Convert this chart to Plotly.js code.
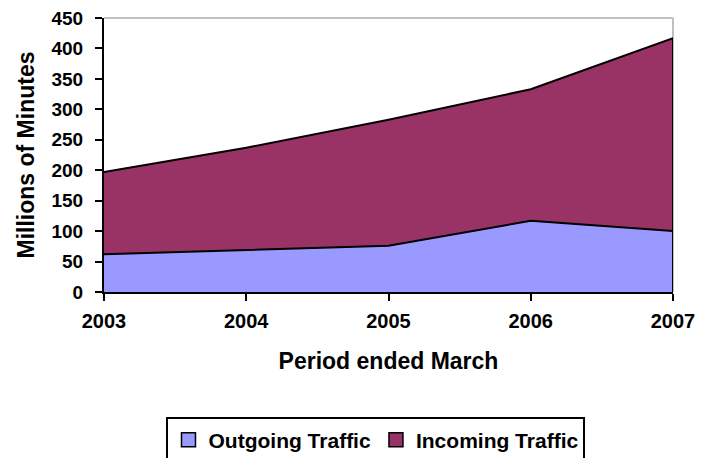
<!DOCTYPE html>
<html><head><meta charset="utf-8">
<script src="https://cdn.plot.ly/plotly-3.0.1.min.js"></script>
<style>html,body{margin:0;padding:0;background:#fff}#chart{width:712px;height:458px}</style>
</head><body><div id="chart"></div>
<script>
const years = [2003, 2004, 2005, 2006, 2007];
const outgoing = [62, 69, 76, 117, 100];
const incoming = [135, 168, 207, 216, 317];
const yTicks = [0, 50, 100, 150, 200, 250, 300, 350, 400, 450];
const names = ['Outgoing Traffic', 'Incoming Traffic'];
const colors = ['#9999FF', '#993366'];

const fam = 'Liberation Sans, Arial, sans-serif';
const f = (s) => ({family: fam, size: s, color: '#000', weight: 'bold'});

const last = years.length - 1;
const traces = [
  {x: years, y: outgoing, name: names[0], type: 'scatter', mode: 'lines', stackgroup: 'one',
   fillcolor: colors[0], line: {color: '#000', width: 2}, showlegend: false},
  {x: years, y: incoming, name: names[1], type: 'scatter', mode: 'lines', stackgroup: 'one',
   fillcolor: colors[1], line: {color: '#000', width: 2}, showlegend: false},
  // right-hand edge outline of the stacked area
  {x: [years[last], years[last]], y: [0, outgoing[last] + incoming[last]], type: 'scatter', mode: 'lines',
   line: {color: '#000', width: 2}, showlegend: false, cliponaxis: false},
  // legend entries (square swatches)
  {x: [null], y: [null], type: 'scatter', mode: 'markers', name: names[0],
   marker: {symbol: 'square', size: 14, color: colors[0], line: {color: '#000', width: 1.5}}},
  {x: [null], y: [null], type: 'scatter', mode: 'markers', name: names[1],
   marker: {symbol: 'square', size: 14, color: colors[1], line: {color: '#000', width: 1.5}}}
];

const layout = {
  width: 712, height: 458,
  margin: {l: 104, r: 39, t: 18, b: 166, autoexpand: false},
  paper_bgcolor: '#fff', plot_bgcolor: '#fff',
  font: f(16),
  showlegend: true,
  hovermode: false,
  xaxis: {
    range: [2003, 2007], tickvals: years, ticktext: years.map(String),
    showgrid: false, zeroline: false, showline: true, linecolor: '#000', linewidth: 2,
    ticks: 'outside', ticklen: 7, tickwidth: 2, tickcolor: '#000',
    tickfont: f(20), automargin: false, ticklabelstandoff: 3,
    title: {text: 'Period ended March', font: f(23), standoff: 22}
  },
  yaxis: {
    range: [0, 450], tickvals: yTicks,
    showgrid: false, zeroline: false, showline: true, linecolor: '#000', linewidth: 2,
    ticks: 'outside', ticklen: 7, tickwidth: 2, tickcolor: '#000',
    tickfont: f(19), automargin: false, ticklabelstandoff: 8,
    title: {text: 'Millions of Minutes', font: f(23), standoff: 10}
  },
  shapes: [
    {type: 'line', xref: 'paper', yref: 'paper', x0: 0, x1: 1, y0: 1, y1: 1, line: {color: '#c0c0c0', width: 2}},
    {type: 'line', xref: 'paper', yref: 'paper', x0: 1, x1: 1, y0: 0, y1: 1, line: {color: '#c0c0c0', width: 2}, layer: 'below'}
  ],
  legend: {
    orientation: 'h', x: 0.478, xanchor: 'center', y: -0.458, yanchor: 'top',
    bordercolor: '#000', borderwidth: 2, bgcolor: '#fff',
    font: f(21), itemwidth: 30, traceorder: 'normal', itemsizing: 'trace'
  }
};

Plotly.newPlot('chart', traces, layout, {staticPlot: true, displayModeBar: false});
</script></body></html>
